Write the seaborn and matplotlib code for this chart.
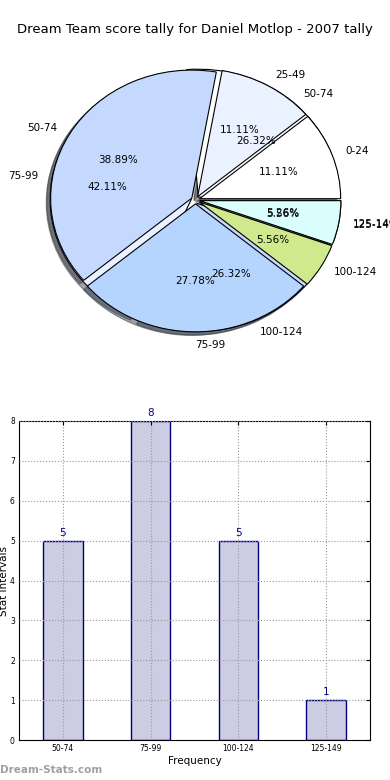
import matplotlib
matplotlib.use('Agg')
import matplotlib.pyplot as plt
import seaborn as sns
import pandas as pd

# data
title = "Dream Team score tally for Daniel Motlop - 2007 tally"
tally_labels = ['0-24', '25-49', '50-74', '75-99', '100-124', '125-149']
tally_counts = [2, 2, 7, 5, 1, 1]
interval_labels = ['50-74', '75-99', '100-124', '125-149']
interval_counts = [5, 8, 5, 1]
pie_colors = ['#ffffff', '#eaf1ff', '#c5d9ff', '#b5d5ff', '#cfe98c', '#dafefe']

sns.set_style('white')
plt.rcParams['font.family'] = ['DejaVu Sans']
plt.rcParams['text.color'] = 'black'
plt.rcParams['axes.labelcolor'] = 'black'
plt.rcParams['xtick.color'] = 'black'
plt.rcParams['ytick.color'] = 'black'

fig = plt.figure(figsize=(3.9, 7.8), dpi=100)
fig.text(0.5, 1 - 30 / 780, title, ha='center', va='center', fontsize=9.5)

# Pie: the interval pie sits underneath, the full tally pie on top
ax1 = fig.add_axes([19 / 390, 420 / 780, 353 / 390, 320 / 780])
wedge_style = dict(edgecolor='black', linewidth=0.8)
ax1.pie(interval_counts, labels=interval_labels, colors=pie_colors[:4],
        explode=[0.03] * len(interval_counts), autopct='%.2f%%', shadow=True,
        wedgeprops=wedge_style, textprops=dict(fontsize=7.5))
ax1.pie(tally_counts, labels=tally_labels, colors=pie_colors,
        explode=[0.03] * len(tally_counts), autopct='%.2f%%', shadow=True,
        wedgeprops=wedge_style, textprops=dict(fontsize=7.5))
ax1.set_aspect('auto')
ax1.set_xlim(-1.25, 1.25)
ax1.set_ylim(-1.25, 1.25)

# Bar chart
ax2 = fig.add_axes([19 / 390, 40 / 780, 351 / 390, 319 / 780])
df = pd.DataFrame({'interval': interval_labels, 'count': interval_counts})
sns.barplot(data=df, x='interval', y='count', color='#ccccE3', edgecolor='#000080',
            linewidth=1, width=0.45, saturation=1, ax=ax2)
ax2.bar_label(ax2.containers[0], color='#000080', fontsize=7.5, padding=2)
ax2.set_xlim(-0.5, 3.5)
ax2.set_ylim(0, 8)
ax2.set_yticks(range(0, 9))
ax2.grid(True, linestyle=':', color='#999999', linewidth=0.8)
ax2.set_axisbelow(False)
for s in ax2.spines.values():
    s.set_color('black')
    s.set_linewidth(0.8)
ax2.tick_params(direction='in', top=True, right=True, labelsize=5.5, length=3, pad=3)
ax2.set_xlabel('Frequency', fontsize=7.5, labelpad=2)
ax2.set_ylabel('Stat Intervals', fontsize=7.5)
ax2.yaxis.set_label_coords(-0.028, 0.5)

fig.text(0.0, 10 / 780, 'Dream-Stats.com', color='#a0a0a0', fontsize=7.5,
         fontweight='bold', ha='left', va='center')

fig.savefig('out.png', dpi=100)
